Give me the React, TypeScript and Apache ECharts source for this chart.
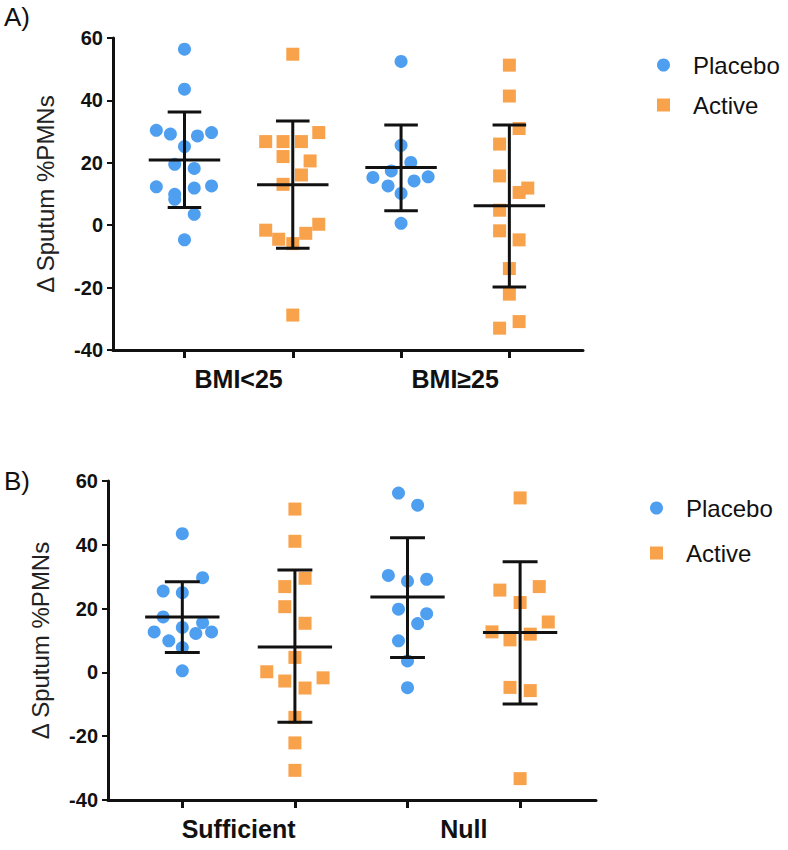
import React, { useEffect, useRef } from "react";
import * as echarts from "echarts";

// ---------- Data ----------
// Each point: [horizontal jitter in category units, value]
const groupsA = ["BMI<25", "BMI≥25"];
const groupsB = ["Sufficient", "Null"];
const yTicks = [-40, -20, 0, 20, 40, 60];

const placeboBmiLow: number[][] = [
  [0, 56.4], [0, 43.6], [-0.26, 30.4], [-0.13, 29.2], [0.12, 28.6], [0.25, 29.7],
  [0, 25.2], [-0.09, 19.5], [0.09, 18.2], [-0.26, 12.3], [0.09, 11.9], [0.25, 12.6],
  [-0.09, 9.9], [-0.09, 8.3], [0.09, 3.5], [0, -4.7],
];
const activeBmiLow: number[][] = [
  [0, 54.8], [0.24, 29.7], [-0.25, 26.8], [-0.09, 26.8], [0.08, 26.8], [-0.09, 22.0],
  [0.16, 20.6], [0.08, 16.1], [-0.09, 13.1], [-0.25, -1.6], [0.24, 0.3], [0.12, -2.6],
  [-0.13, -4.5], [0, -5.9], [0, -28.8],
];
const placeboBmiHigh: number[][] = [
  [0, 52.5], [0, 25.6], [0.09, 20.1], [-0.09, 17.4], [-0.26, 15.3], [0.25, 15.5],
  [0.12, 14.2], [-0.12, 12.6], [0, 10.2], [0, 0.6],
];
const activeBmiHigh: number[][] = [
  [0, 51.3], [0, 41.4], [0.09, 31.0], [-0.09, 26.0], [-0.09, 15.8], [0.17, 11.9],
  [0.09, 10.5], [-0.09, 4.8], [-0.09, -1.8], [0.09, -4.7], [0, -13.9], [0, -22.1],
  [0.09, -30.9], [-0.09, -33.0],
];
const placeboSufficient: number[][] = [
  [0, 43.5], [0.18, 29.7], [-0.17, 25.5], [0, 25.0], [-0.17, 17.4], [0.18, 15.6],
  [0, 14.1], [-0.25, 12.7], [0.12, 12.2], [0.26, 12.7], [-0.12, 9.9], [0, 7.8], [0, 0.5],
];
const activeSufficient: number[][] = [
  [0, 51.2], [0, 41.1], [0.09, 29.5], [-0.09, 26.9], [-0.09, 20.6], [0.09, 15.4],
  [0, 4.7], [-0.25, 0.2], [0.25, -1.7], [-0.09, -2.7], [0.09, -4.9], [0, -14.1],
  [0, -22.1], [0, -30.7],
];
const placeboNull: number[][] = [
  [-0.08, 56.2], [0.09, 52.4], [-0.17, 30.4], [0, 28.6], [0.17, 29.2], [-0.08, 19.8],
  [0.17, 18.4], [0.09, 15.3], [-0.08, 9.9], [0, 3.6], [0, -4.8],
];
const activeNull: number[][] = [
  [0, 54.7], [-0.18, 25.8], [0.17, 26.9], [0, 21.9], [0.25, 15.8], [-0.25, 12.7],
  [0.09, 12.0], [-0.09, 10.2], [-0.09, -4.7], [0.09, -5.7], [0, -33.3],
];

// mean, lower SD, upper SD per column (Placebo, Active, Placebo, Active)
const meansA = [20.9, 13.0, 18.5, 6.2];
const lowA = [5.7, -7.4, 4.6, -19.8];
const highA = [36.3, 33.4, 32.1, 32.1];
const meansB = [17.4, 8.0, 23.6, 12.5];
const lowB = [6.2, -15.6, 4.7, -9.9];
const highB = [28.4, 32.1, 42.2, 34.7];

// ---------- Styling ----------
const BLUE = "#4f9ff0";
const ORANGE = "#f9a24c";
const FONT = "Liberation Sans";

function jitter(points: number[][], pos: number) {
  return points.map(([dx, v]) => [pos + dx, v]);
}

function errorRender(params: any, api: any) {
  const x = api.value(0);
  const m = api.value(1);
  const lo = api.value(2);
  const hi = api.value(3);
  const unit = api.size([1, 0])[0];
  const pm = api.coord([x, m]);
  const pl = api.coord([x, lo]);
  const ph = api.coord([x, hi]);
  const halfMean = unit * 0.33;
  const halfCap = unit * 0.155;
  const style = { stroke: "#111", lineWidth: 3 };
  return {
    type: "group",
    children: [
      { type: "line", shape: { x1: pl[0], y1: pl[1], x2: ph[0], y2: ph[1] }, style },
      { type: "line", shape: { x1: pm[0] - halfMean, y1: pm[1], x2: pm[0] + halfMean, y2: pm[1] }, style },
      { type: "line", shape: { x1: ph[0] - halfCap, y1: ph[1], x2: ph[0] + halfCap, y2: ph[1] }, style },
      { type: "line", shape: { x1: pl[0] - halfCap, y1: pl[1], x2: pl[0] + halfCap, y2: pl[1] }, style },
    ],
  };
}

function makeXAxis(gridIndex: number, groups: string[], max: number) {
  return {
    type: "value",
    gridIndex,
    min: 0.34,
    max,
    axisLine: { show: true, onZero: false, lineStyle: { color: "#111", width: 3 } },
    axisTick: { show: true, customValues: [1, 2, 3, 4], length: 8, lineStyle: { color: "#111", width: 3 } },
    axisLabel: {
      customValues: [1.5, 3.5],
      formatter: (v: number) => (v < 2.5 ? groups[0] : groups[1]),
      color: "#111",
      fontFamily: FONT,
      fontWeight: "bold",
      fontSize: 25,
      margin: 16,
    },
    splitLine: { show: false },
  };
}

function makeYAxis(gridIndex: number) {
  return {
    type: "value",
    gridIndex,
    min: yTicks[0],
    max: yTicks[yTicks.length - 1],
    interval: 20,
    name: "Δ Sputum %PMNs",
    nameLocation: "middle",
    nameGap: 56,
    nameTextStyle: { fontFamily: FONT, fontSize: 24, color: "#222" },
    axisLine: { show: true, lineStyle: { color: "#111", width: 3 } },
    axisTick: { show: true, length: 6, lineStyle: { color: "#111", width: 2 } },
    axisLabel: { color: "#111", fontFamily: FONT, fontWeight: "bold", fontSize: 20, margin: 10 },
    splitLine: { show: false },
  };
}

export default function App() {
  const ref = useRef<HTMLDivElement>(null);

  useEffect(() => {
    document.body.style.margin = "0";
    if (!ref.current) return;
    const chart = echarts.init(ref.current, undefined, { renderer: "svg" });

    const scatter = (name: string, data: number[][], xi: number, color: string, symbol: string) => ({
      type: "scatter",
      name,
      xAxisIndex: xi,
      yAxisIndex: xi,
      data,
      symbol,
      symbolSize: 13,
      itemStyle: { color, opacity: 1 },
      z: 2,
    });

    const errSeries = (xi: number, means: number[], lows: number[], highs: number[]) => ({
      type: "custom",
      xAxisIndex: xi,
      yAxisIndex: xi,
      renderItem: errorRender,
      data: means.map((m, i) => [i + 1, m, lows[i], highs[i]]),
      encode: { x: 0, y: [1, 2, 3] },
      z: 5,
      silent: true,
    });

    const legendBase = {
      orient: "vertical",
      itemWidth: 13,
      itemHeight: 13,
      textStyle: { fontFamily: FONT, fontSize: 24, color: "#111", lineHeight: 28, padding: [0, 0, 0, 18] },
      data: [
        { name: "Placebo", icon: "circle" },
        { name: "Active", icon: "rect" },
      ],
      selectedMode: false,
    };

    chart.setOption({
      animation: false,
      backgroundColor: "#fff",
      grid: [
        { left: 113, top: 38, width: 470, height: 312 },
        { left: 108, top: 481, width: 488, height: 319 },
      ],
      xAxis: [makeXAxis(0, groupsA, 4.68), makeXAxis(1, groupsB, 4.674)],
      yAxis: [makeYAxis(0), makeYAxis(1)],
      legend: [
        { ...legendBase, left: 652, top: 46, itemGap: 12 },
        { ...legendBase, left: 645, top: 489, itemGap: 17 },
      ],
      graphic: [
        { type: "text", left: 4, top: 4, style: { text: "A)", fontFamily: FONT, fontSize: 26, fill: "#111" } },
        { type: "text", left: 4, top: 468, style: { text: "B)", fontFamily: FONT, fontSize: 26, fill: "#111" } },
      ],
      series: [
        scatter("Placebo", jitter(placeboBmiLow, 1), 0, BLUE, "circle"),
        scatter("Active", jitter(activeBmiLow, 2), 0, ORANGE, "rect"),
        scatter("Placebo", jitter(placeboBmiHigh, 3), 0, BLUE, "circle"),
        scatter("Active", jitter(activeBmiHigh, 4), 0, ORANGE, "rect"),
        scatter("Placebo", jitter(placeboSufficient, 1), 1, BLUE, "circle"),
        scatter("Active", jitter(activeSufficient, 2), 1, ORANGE, "rect"),
        scatter("Placebo", jitter(placeboNull, 3), 1, BLUE, "circle"),
        scatter("Active", jitter(activeNull, 4), 1, ORANGE, "rect"),
        errSeries(0, meansA, lowA, highA),
        errSeries(1, meansB, lowB, highB),
      ],
    });

    return () => chart.dispose();
  }, []);

  return <div ref={ref} style={{ width: 788, height: 850 }} />;
}
